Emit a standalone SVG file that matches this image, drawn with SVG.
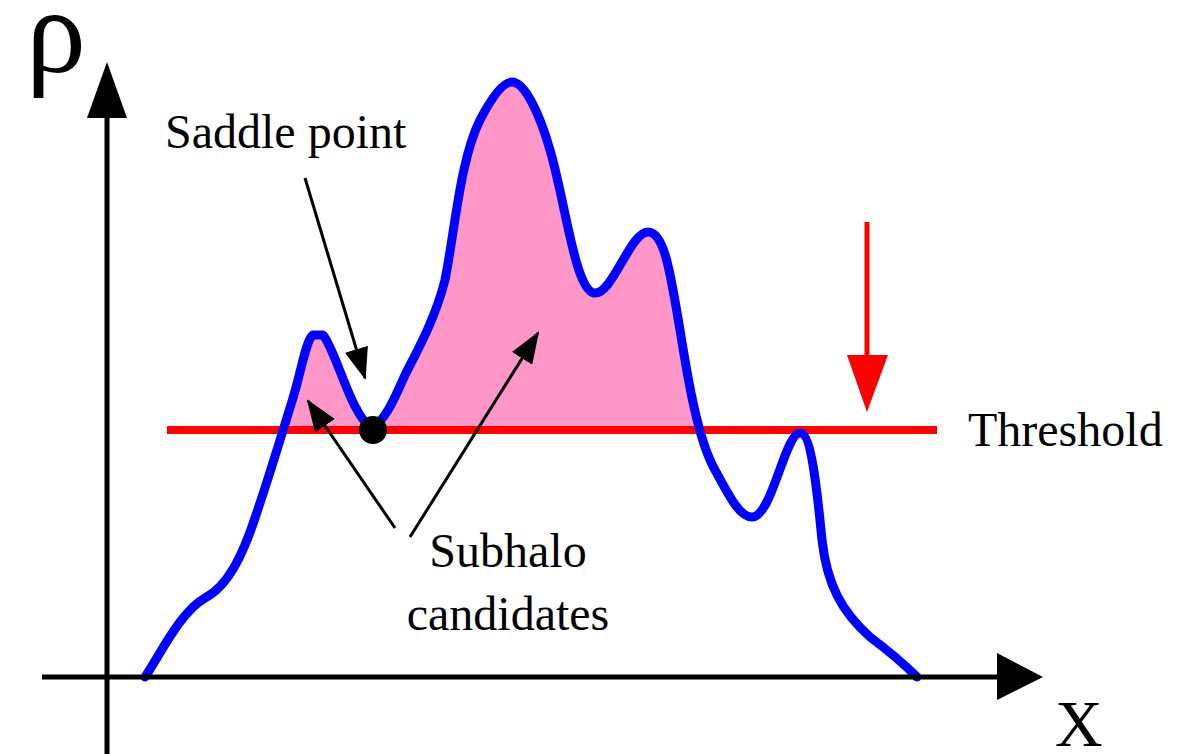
<svg xmlns="http://www.w3.org/2000/svg" width="1180" height="754" viewBox="0 0 1180 754">
<style>
  .lbl { font-family: "Liberation Serif", "Times New Roman", serif; fill: #000; }
  .axis { stroke: #000; stroke-width: 5; fill: none; }
  .ptr { stroke: #000; stroke-width: 3; fill: none; marker-end: url(#ah); }
  .curve { stroke: #0000ff; stroke-width: 9; fill: none; stroke-linejoin: round; stroke-linecap: round; }
</style>
<defs>
  <marker id="ah" viewBox="0 0 32 24" refX="30" refY="12" markerWidth="32" markerHeight="24" markerUnits="userSpaceOnUse" orient="auto">
    <path d="M0,0 L32,12 L0,24 Z" fill="#000"/>
  </marker>
  <clipPath id="above">
    <rect x="0" y="0" width="1180" height="430"/>
  </clipPath>
</defs>
<rect width="1180" height="754" fill="#fff"/>

<g id="fill">
  <path clip-path="url(#above)" fill="#ff96c8" d="M145,677 C160,655 180,612 205,598 C228,586 243,555 256,515 C268,480 281,437 293,398 C302,368 306,340 313,335 L323,335 C336,350 352,418 372,428 C386,420 396,395 405,375 C415,355 435,320 445,280 C455,230 460,160 480,120 C492,97 503,82 512,82 C525,82 540,115 550,150 C565,200 575,290 594,293 C612,296 630,232 648,232 C664,232 670,270 680,330 C688,380 698,440 715,470 C730,498 740,517 752,517 C772,517 785,433 800,433 C812,433 818,500 822,540 C827,585 842,612 870,637 C890,652 905,665 917,677 Z"/>
</g>

<g id="threshold">
  <line x1="167" y1="430" x2="937" y2="430" stroke="#ff0000" stroke-width="8"/>
  <text class="lbl" x="968" y="446" font-size="48">Threshold</text>
</g>

<g id="density-curve">
  <path class="curve" d="M145,677 C160,655 180,612 205,598 C228,586 243,555 256,515 C268,480 281,437 293,398 C302,368 306,340 313,335 L323,335 C336,350 352,418 372,428 C386,420 396,395 405,375 C415,355 435,320 445,280 C455,230 460,160 480,120 C492,97 503,82 512,82 C525,82 540,115 550,150 C565,200 575,290 594,293 C612,296 630,232 648,232 C664,232 670,270 680,330 C688,380 698,440 715,470 C730,498 740,517 752,517 C772,517 785,433 800,433 C812,433 818,500 822,540 C827,585 842,612 870,637 C890,652 905,665 917,677"/>
</g>

<g id="axes">
  <line class="axis" x1="107" y1="754" x2="107" y2="112"/>
  <path d="M87,118 L107,62 L127,118 Z" fill="#000"/>
  <line class="axis" x1="42" y1="677" x2="1000" y2="677"/>
  <path d="M997,653 L1043,677 L997,700 Z" fill="#000"/>
  <text class="lbl" x="26" y="72" font-size="120">ρ</text>
  <text class="lbl" x="1055" y="746" font-size="66">X</text>
</g>

<g id="saddle-point">
  <circle cx="373" cy="430" r="14" fill="#000"/>
  <text class="lbl" x="165" y="148" font-size="48">Saddle point</text>
</g>

<g id="subhalo-label">
  <text class="lbl" x="508" y="567" font-size="48" text-anchor="middle">Subhalo</text>
  <text class="lbl" x="508" y="630" font-size="48" text-anchor="middle">candidates</text>
</g>

<g id="connectors">
  <line class="ptr" x1="305" y1="178" x2="365" y2="378"/>
  <line class="ptr" x1="395" y1="528" x2="308" y2="401"/>
  <line class="ptr" x1="410" y1="537" x2="538" y2="333"/>
  <line x1="867" y1="222" x2="867" y2="360" stroke="#ff0000" stroke-width="5"/>
  <path d="M847,355 L888,355 L867,412 Z" fill="#ff0000"/>
</g>
</svg>
